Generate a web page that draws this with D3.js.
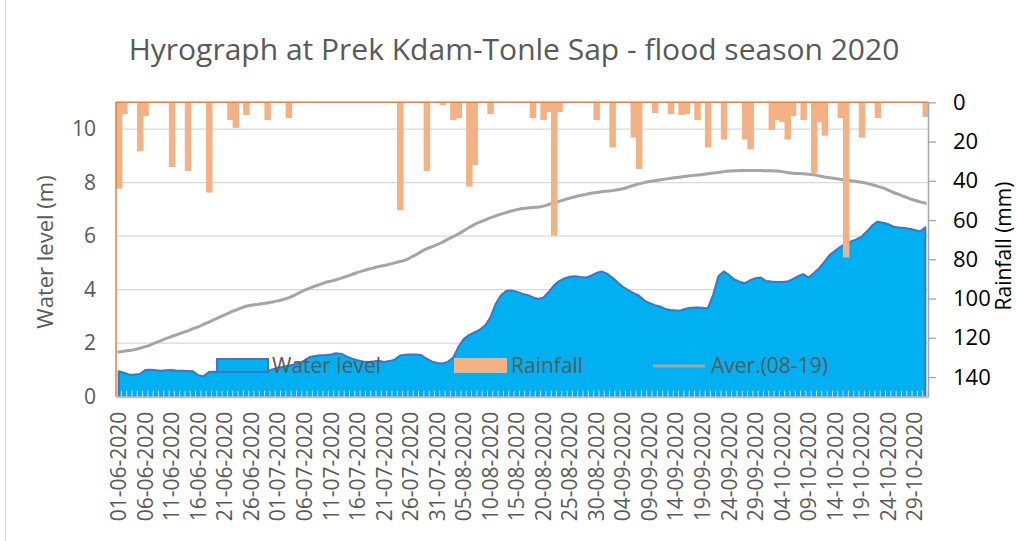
<!DOCTYPE html>
<html>
<head>
<meta charset="utf-8">
<script src="https://cdn.jsdelivr.net/npm/d3@7"></script>
<style>
body { margin: 0; background: #fff; }
svg { display: block; font-family: "Open Sans", sans-serif; }
</style>
</head>
<body>
<svg id="chart" width="1016" height="541"></svg>
<script>
// daily values, 01-06-2020 .. 31-10-2020 (153 days)
var waterLevel = [
    0.95, 0.9, 0.82, 0.83, 0.85, 1.0, 1.01, 0.99, 0.97, 0.99,
    1.0, 0.97, 0.97, 0.96, 0.95, 0.8, 0.76, 0.92, 0.93, 0.92,
    0.92, 0.93, 0.93, 0.93, 0.94, 0.94, 0.93, 0.93, 0.95, 1.02,
    1.08, 1.12, 1.16, 1.2, 1.25, 1.35, 1.48, 1.52, 1.55, 1.56,
    1.58, 1.62, 1.6, 1.5, 1.42, 1.36, 1.32, 1.3, 1.32, 1.34,
    1.3, 1.33, 1.38, 1.54, 1.57, 1.58, 1.58, 1.56, 1.42, 1.32,
    1.26, 1.24, 1.3, 1.45, 1.85, 2.15, 2.3, 2.4, 2.5, 2.65,
    2.95, 3.45, 3.78, 3.95, 3.97, 3.92, 3.85, 3.8, 3.72, 3.65,
    3.7, 3.9, 4.15, 4.32, 4.42, 4.48, 4.5, 4.47, 4.45, 4.52,
    4.62, 4.68, 4.6, 4.45, 4.28, 4.1, 3.98, 3.87, 3.78, 3.6,
    3.5, 3.42, 3.37, 3.28, 3.24, 3.22, 3.23, 3.3, 3.32, 3.33,
    3.32, 3.3, 3.8, 4.5, 4.68, 4.55, 4.38, 4.3, 4.24, 4.35,
    4.43, 4.45, 4.32, 4.3, 4.29, 4.29, 4.3, 4.39, 4.5, 4.58,
    4.45, 4.62, 4.8, 5.05, 5.3, 5.45, 5.6, 5.72, 5.8, 5.88,
    5.98, 6.18, 6.4, 6.54, 6.5, 6.45, 6.35, 6.32, 6.3, 6.28,
    6.23, 6.17, 6.33
];

var rainfall = [
    44, 6, 0, 0, 25, 7, 0, 0, 0, 0,
    33, 0, 0, 35, 0, 0, 0, 46, 0, 0,
    0, 9, 13, 0, 6.5, 0, 0, 0, 9, 0,
    0, 0, 8, 0, 0, 0, 0, 0, 0, 0,
    0, 0, 0, 0, 0, 0, 0, 0, 0, 0,
    0, 0, 0, 55, 0, 0, 0, 0, 35, 0,
    0, 1.5, 0, 9, 8, 0, 43, 32, 0, 0,
    6, 0, 0, 0, 0, 0, 0, 0, 8, 0,
    9, 5, 68, 5, 0, 0, 0, 0, 0, 0,
    9, 0, 0, 23, 0, 0, 0, 18, 34, 0,
    0, 5.5, 0, 0, 6, 0, 6.5, 6, 0, 9,
    0, 23, 0, 0, 19, 0, 0, 0, 19, 24,
    0, 0, 0, 14, 9, 10, 19, 7, 0, 9,
    0, 36, 10, 17, 0, 0, 8, 79, 0, 0,
    18, 0, 0, 8, 0, 0, 0, 0, 0, 0,
    0, 0, 7.5
];

var average = [
    1.67, 1.7, 1.73, 1.76, 1.81, 1.87, 1.94, 2.02, 2.1, 2.18,
    2.25, 2.32, 2.39, 2.46, 2.54, 2.61, 2.7, 2.79, 2.88, 2.97,
    3.06, 3.15, 3.23, 3.31, 3.38, 3.42, 3.44, 3.47, 3.5, 3.54,
    3.58, 3.63, 3.69, 3.78, 3.88, 3.98, 4.06, 4.13, 4.2, 4.27,
    4.32, 4.37, 4.43, 4.5, 4.57, 4.64, 4.7, 4.76, 4.81, 4.86,
    4.9, 4.95, 5.0, 5.05, 5.1, 5.2, 5.3, 5.42, 5.52, 5.6,
    5.68, 5.77, 5.88, 5.98, 6.08, 6.2, 6.32, 6.43, 6.52, 6.6,
    6.68, 6.75, 6.82, 6.88, 6.94, 6.99, 7.03, 7.05, 7.07, 7.08,
    7.12, 7.18, 7.24, 7.3, 7.36, 7.42, 7.47, 7.52, 7.56, 7.6,
    7.63, 7.66, 7.68, 7.7, 7.73, 7.77, 7.83, 7.89, 7.95, 8.0,
    8.04, 8.07, 8.1, 8.13, 8.16, 8.19, 8.21, 8.24, 8.26, 8.28,
    8.3, 8.33, 8.36, 8.38, 8.41, 8.43, 8.44, 8.45, 8.45, 8.45,
    8.45, 8.45, 8.44, 8.44, 8.43, 8.41, 8.38, 8.35, 8.34, 8.33,
    8.31, 8.29, 8.25, 8.21, 8.18, 8.15, 8.12, 8.1, 8.07, 8.04,
    8.01, 7.97, 7.92, 7.86, 7.8, 7.72, 7.63, 7.56, 7.48, 7.4,
    7.34, 7.28, 7.23
];

var tickLabels = [
    "01-06-2020", "06-06-2020", "11-06-2020", "16-06-2020", "21-06-2020", "26-06-2020",
    "01-07-2020", "06-07-2020", "11-07-2020", "16-07-2020", "21-07-2020", "26-07-2020",
    "31-07-2020", "05-08-2020", "10-08-2020", "15-08-2020", "20-08-2020", "25-08-2020",
    "30-08-2020", "04-09-2020", "09-09-2020", "14-09-2020", "19-09-2020", "24-09-2020",
    "29-09-2020", "04-10-2020", "09-10-2020", "14-10-2020", "19-10-2020", "24-10-2020",
    "29-10-2020"
];
var levelTicks = [0, 2, 4, 6, 8, 10];
var rainTicks = [0, 20, 40, 60, 80, 100, 120, 140];

var fmt = d3.timeFormat("%d-%m-%Y");
var days = d3.timeDay.range(new Date(2020, 5, 1), new Date(2020, 10, 1)).map(fmt);

var svg = d3.select("#chart");
var plot = {left: 116, right: 928, top: 102.3, bottom: 396.7};

var xScale = d3.scaleBand().domain(days).range([plot.left, plot.right]).padding(0);
var bw = xScale.bandwidth();
var yLevel = d3.scaleLinear().domain([0, 11]).range([plot.bottom, plot.top]);
var yRain = d3.scaleLinear().domain([0, 150]).range([plot.top, plot.bottom]);

function cx(i) { return xScale(days[i]) + bw / 2; }

// outer frame edge
svg.append("line")
    .attr("x1", 5.5).attr("x2", 5.5).attr("y1", 0).attr("y2", 541)
    .style("stroke", "#d9d9d9").style("stroke-width", 1);

// title
svg.append("text")
    .attr("x", 514).attr("y", 60)
    .attr("text-anchor", "middle")
    .style("font-size", "30px")
    .style("fill", "#595959")
    .text("Hyrograph at Prek Kdam-Tonle Sap - flood season 2020");

// gridlines
svg.append("g").selectAll("line")
    .data(levelTicks.filter(function(t) { return t > 0; }))
    .enter().append("line")
    .attr("x1", plot.left).attr("x2", plot.right)
    .attr("y1", function(d) { return yLevel(d); })
    .attr("y2", function(d) { return yLevel(d); })
    .style("stroke", "#d9d9d9").style("stroke-width", 1.3);

// water level area
var area = d3.area()
    .x(function(d, i) { return cx(i); })
    .y0(yLevel(0))
    .y1(function(d) { return yLevel(d); });

svg.append("path")
    .datum(waterLevel)
    .attr("d", area)
    .style("fill", "#00B0F0")
    .style("stroke", "#4472C4")
    .style("stroke-width", 2)
    .style("stroke-linejoin", "round");

// average line
var line = d3.line()
    .x(function(d, i) { return cx(i); })
    .y(function(d) { return yLevel(d); })
    .curve(d3.curveMonotoneX);

svg.append("path")
    .datum(average)
    .attr("d", line)
    .style("fill", "none")
    .style("stroke", "#A5A5A5")
    .style("stroke-width", 3)
    .style("stroke-linecap", "round");

// x axis with inward category ticks
var bottomAxis = svg.append("g")
    .attr("transform", "translate(0," + plot.bottom + ")")
    .call(d3.axisBottom(xScale).tickValues(tickLabels).tickSize(0).tickPadding(14));

bottomAxis.select(".domain").style("stroke", "#bfbfbf").style("stroke-width", 2);
bottomAxis.selectAll("text")
    .attr("transform", "rotate(-90)")
    .attr("x", -15).attr("y", 0).attr("dy", "0.36em")
    .style("text-anchor", "end")
    .style("font-size", "21px")
    .style("font-family", "'Open Sans', sans-serif")
    .style("fill", "#595959");

svg.append("g").selectAll("line")
    .data(d3.range(days.length + 1))
    .enter().append("line")
    .attr("x1", function(i) { return plot.left + i * bw; })
    .attr("x2", function(i) { return plot.left + i * bw; })
    .attr("y1", plot.bottom - 6).attr("y2", plot.bottom)
    .style("stroke", "#d9d9d9").style("stroke-width", 1);

// rainfall bars (hanging from top)
svg.append("g").selectAll("rect")
    .data(rainfall.map(function(v, i) { return {day: days[i], v: v}; })
        .filter(function(d) { return d.v > 0; }))
    .enter().append("rect")
    .attr("x", function(d) { return xScale(d.day) - 0.2; })
    .attr("width", bw + 1.2)
    .attr("y", yRain(0))
    .attr("height", function(d) { return yRain(d.v) - yRain(0); })
    .style("fill", "#F4B183");

// orange axis lines of the rainfall series
svg.append("line")
    .attr("x1", plot.left).attr("x2", plot.right)
    .attr("y1", plot.top).attr("y2", plot.top)
    .style("stroke", "#ED7D31").style("stroke-width", 1.5);
svg.append("line")
    .attr("x1", plot.left).attr("x2", plot.left)
    .attr("y1", plot.top).attr("y2", plot.bottom)
    .style("stroke", "#ED7D31").style("stroke-width", 1.5);

// left axis
var leftAxis = svg.append("g")
    .attr("transform", "translate(" + plot.left + ",0)")
    .call(d3.axisLeft(yLevel).tickValues(levelTicks).tickSize(0).tickPadding(20));
leftAxis.select(".domain").remove();
leftAxis.selectAll("text")
    .style("font-size", "21px")
    .style("font-family", "'Open Sans', sans-serif")
    .style("fill", "#595959");

// right axis
var rightAxis = svg.append("g")
    .attr("transform", "translate(" + plot.right + ",0)")
    .call(d3.axisRight(yRain).tickValues(rainTicks).tickSize(8).tickSizeOuter(0).tickPadding(17));
rightAxis.select(".domain").style("stroke", "#a6a6a6").style("stroke-width", 1.5);
rightAxis.selectAll(".tick line").style("stroke", "#a6a6a6").style("stroke-width", 1.3);
rightAxis.selectAll("text")
    .style("font-size", "22px")
    .style("font-family", "'Open Sans', sans-serif")
    .style("fill", "#000");

// axis titles
svg.append("text")
    .attr("transform", "translate(53,252) rotate(-90)")
    .attr("text-anchor", "middle")
    .style("font-size", "22px")
    .style("fill", "#595959")
    .text("Water level (m)");

svg.append("text")
    .attr("transform", "translate(1011,246) rotate(-90)")
    .attr("text-anchor", "middle")
    .style("font-size", "21px")
    .style("fill", "#000")
    .text("Rainfall (mm)");

// legend
var legend = svg.append("g").style("font-size", "21px").style("fill", "#595959");

legend.append("rect")
    .attr("x", 217).attr("y", 359).attr("width", 51).attr("height", 13)
    .style("fill", "#00B0F0").style("stroke", "#4472C4").style("stroke-width", 2);
legend.append("text").attr("x", 272).attr("y", 373).text("Water level");

legend.append("rect")
    .attr("x", 454).attr("y", 358).attr("width", 53).attr("height", 15)
    .style("fill", "#F4B183");
legend.append("text").attr("x", 511).attr("y", 373).text("Rainfall");

legend.append("line")
    .attr("x1", 653).attr("x2", 705).attr("y1", 366).attr("y2", 366)
    .style("stroke", "#A5A5A5").style("stroke-width", 3);
legend.append("text").attr("x", 711).attr("y", 373).text("Aver.(08-19)");
</script>
</body>
</html>
